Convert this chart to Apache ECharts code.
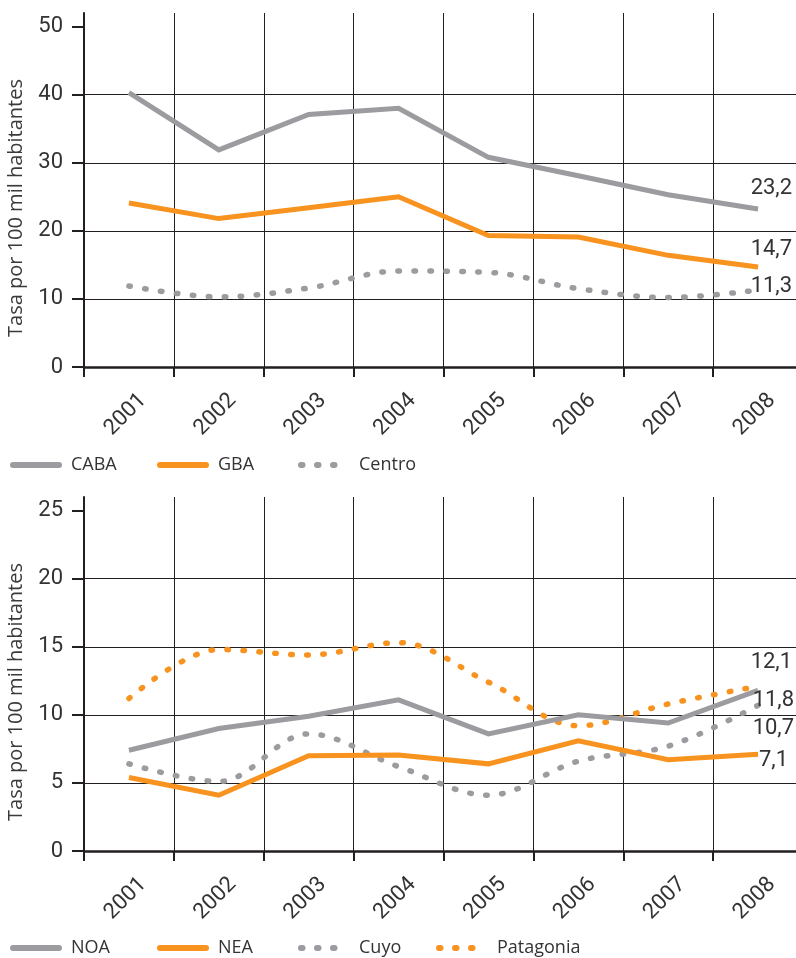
<!DOCTYPE html>
<html><head><meta charset="utf-8">
<script src="https://cdn.jsdelivr.net/npm/echarts@6/dist/echarts.min.js"></script>
<style>html,body{margin:0;padding:0;background:#fff}#c{width:796px;height:958px}</style>
</head><body><div id="c"></div>
<script>
const years = ['2001','2002','2003','2004','2005','2006','2007','2008'];
const caba = [40.3, 31.9, 37.1, 38.0, 30.8, 28.1, 25.3, 23.2];
const gba = [24.1, 21.8, 23.4, 25.0, 19.3, 19.1, 16.4, 14.7];
const centro = [11.9, 10.3, 11.6, 14.1, 13.9, 11.5, 10.2, 11.3];
const noa = [7.4, 9.0, 9.9, 11.1, 8.6, 10.0, 9.4, 11.8];
const nea = [5.4, 4.1, 7.0, 7.05, 6.4, 8.1, 6.7, 7.1];
const cuyo = [6.4, 5.1, 8.6, 6.2, 4.1, 6.6, 7.7, 10.7];
const patagonia = [11.2, 14.8, 14.4, 15.3, 12.4, 9.2, 10.8, 12.1];
const topTicks = [0, 10, 20, 30, 40, 50];
const bottomTicks = [0, 5, 10, 15, 20, 25];
const yName = 'Tasa por 100 mil habitantes';

const GRAY = '#9c9ca0', ORANGE = '#f7931e', INK = '#231f20', TXT = '#333333';
const FONT = 'Roboto', TFONT = 'Open Sans';
const fmt = v => Number(v).toFixed(1).replace('.', ',');

function xAxis(gi) {
  return {
    type: 'category', gridIndex: gi, data: years, boundaryGap: true,
    axisLine: { lineStyle: { color: INK, width: 2.5 } },
    axisTick: { show: true, interval: 0, length: 10, lineStyle: { color: INK, width: 2 } },
    splitLine: { show: true, interval: 0, lineStyle: { color: INK, width: 1 } },
    axisLabel: { interval: 0, rotate: 45, margin: 16, fontSize: 22, color: TXT, fontFamily: FONT,
      verticalAlign: 'top', lineHeight: 40 }
  };
}
function yAxis(gi, max, interval, ticks) {
  return {
    type: 'value', gridIndex: gi, min: 0, max: max, interval: interval,
    name: yName, nameLocation: 'middle', nameGap: 58,
    nameTextStyle: { fontSize: 20, color: '#3a3a3a', fontFamily: TFONT, padding: [0, 36, 0, 0] },
    axisLine: { show: true, lineStyle: { color: INK, width: 2 } },
    axisTick: { show: true, length: 12, lineStyle: { color: INK, width: 2 }, customValues: ticks },
    axisLabel: { margin: 21, fontSize: 22, color: TXT, fontFamily: FONT, customValues: ticks },
    splitLine: { show: true, showMaxLine: false, lineStyle: { color: INK, width: 1 } }
  };
}
function series(name, data, color, dotted, gi, labelDx, vAlign, lh) {
  return {
    name: name, type: 'line', xAxisIndex: gi, yAxisIndex: gi, data: data,
    symbol: 'none', smooth: dotted ? 0.35 : false,
    lineStyle: dotted ? { color: color, width: 5.5, type: [1.5, 14.5], cap: 'round' }
                      : { color: color, width: 5, join: 'miter' },
    itemStyle: { color: color },
    endLabel: { show: true, formatter: p => fmt(p.value), color: TXT, fontSize: 22, fontFamily: FONT,
      align: 'right', distance: labelDx, verticalAlign: vAlign, lineHeight: lh },
    z: dotted ? 3 : 4
  };
}
function legendItem(name, left, top) {
  return {
    top: top, left: left, data: [name], itemWidth: 46, itemHeight: 14,
    itemStyle: { opacity: 0 },
    lineStyle: { width: 6, cap: 'round' },
    textStyle: { fontSize: 18, color: TXT, fontFamily: TFONT, padding: [0, 0, 0, 7] }
  };
}

const chart = echarts.init(document.getElementById('c'));
chart.setOption({
  animation: false,
  backgroundColor: '#ffffff',
  grid: [
    { left: 84, right: -7, top: 13, bottom: 591, outerBoundsMode: 'none' },
    { left: 84, right: -7, top: 497, bottom: 107, outerBoundsMode: 'none' }
  ],
  xAxis: [xAxis(0), xAxis(1)],
  yAxis: [yAxis(0, 52, 10, topTicks), yAxis(1, 26, 5, bottomTicks)],
  legend: [
    legendItem('CABA', 5, 451), legendItem('GBA', 152, 451), legendItem('Centro', 293, 451),
    legendItem('NOA', 5, 934), legendItem('NEA', 152, 934), legendItem('Cuyo', 293, 934),
    legendItem('Patagonia', 431, 934)
  ],
  series: [
    series('CABA', caba, GRAY, false, 0, 34, 'bottom', 42),
    series('GBA', gba, ORANGE, false, 0, 34, 'bottom', 34),
    series('Centro', centro, GRAY, true, 0, 34, 'bottom', 8),
    series('NOA', noa, GRAY, false, 1, 36, 'top', 20),
    series('NEA', nea, ORANGE, false, 1, 30, 'top', 12),
    series('Cuyo', cuyo, GRAY, true, 1, 36, 'top', 46),
    series('Patagonia', patagonia, ORANGE, true, 1, 34, 'bottom', 48)
  ]
});
</script></body></html>
